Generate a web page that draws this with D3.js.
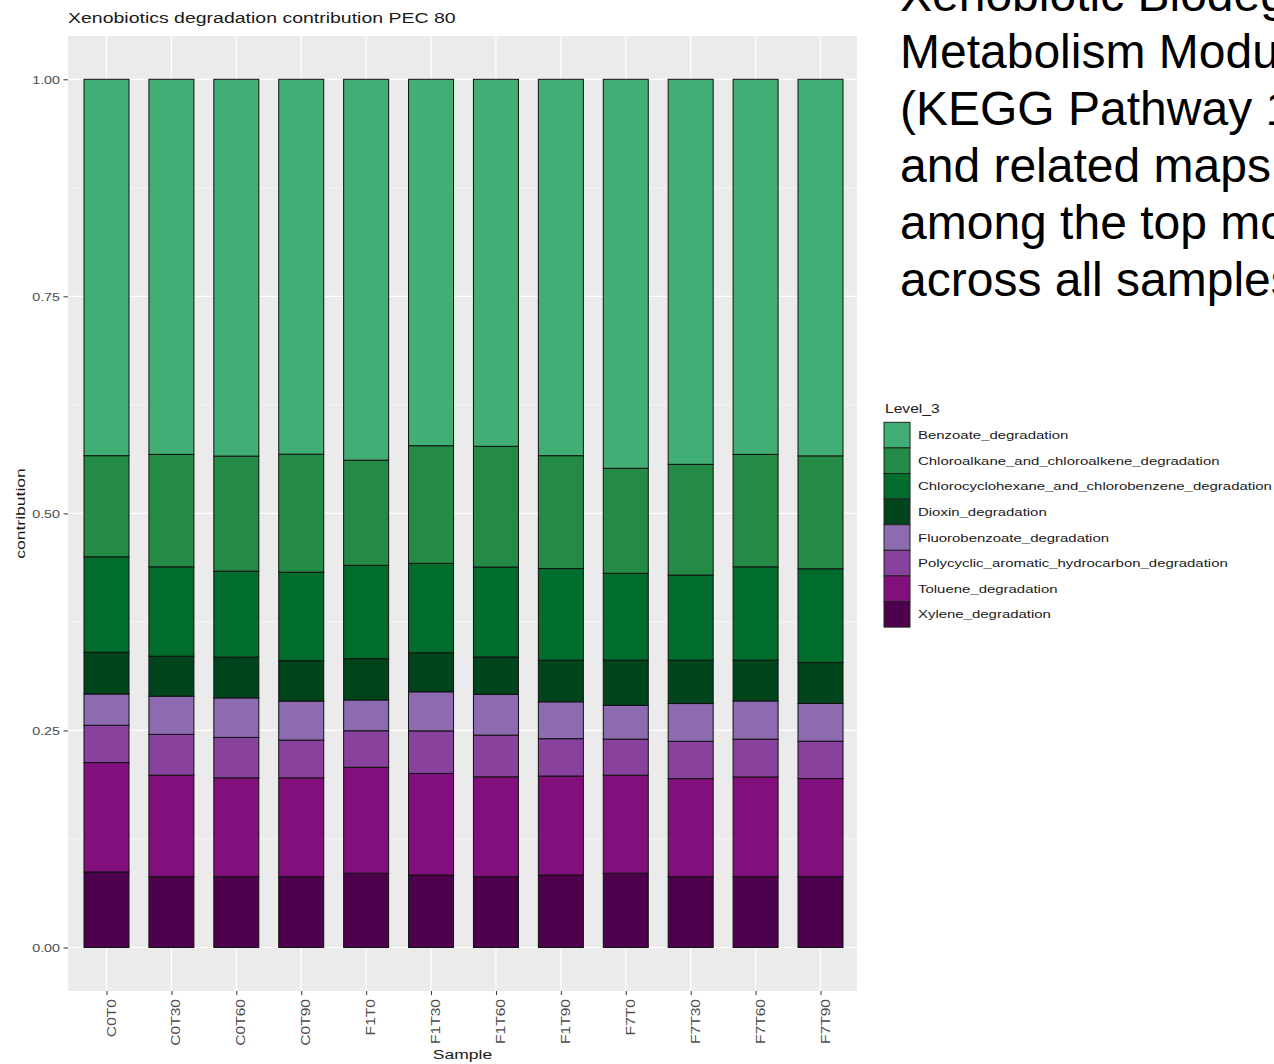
<!DOCTYPE html>
<html>
<head>
<meta charset="utf-8">
<script src="https://cdn.jsdelivr.net/npm/d3@7"></script>
<style>
  body { margin: 0; background: #fff; }
  svg { display: block; font-family: "Liberation Sans", Arial, sans-serif; }
</style>
</head>
<body>
<svg id="chart" width="1274" height="1064"></svg>
<script>
// ---------- data ----------
const samples = ["C0T0","C0T30","C0T60","C0T90","F1T0","F1T30","F1T60","F1T90","F7T0","F7T30","F7T60","F7T90"];
const pathways = [
  "Benzoate_degradation",
  "Chloroalkane_and_chloroalkene_degradation",
  "Chlorocyclohexane_and_chlorobenzene_degradation",
  "Dioxin_degradation",
  "Fluorobenzoate_degradation",
  "Polycyclic_aromatic_hydrocarbon_degradation",
  "Toluene_degradation",
  "Xylene_degradation"
];
const pathwayColors = ["#41ae76","#238b45","#006d2c","#00441b","#8c6bb1","#88419d","#810f7c","#4d004b"];

const benzoate       = [0.4335,0.4320,0.4340,0.4320,0.4385,0.4220,0.4225,0.4335,0.4480,0.4435,0.4320,0.4335];
const chloroalkane   = [0.1165,0.1295,0.1325,0.1360,0.1210,0.1355,0.1390,0.1300,0.1210,0.1275,0.1295,0.1300];
const chlorocyclo    = [0.1100,0.1030,0.0990,0.1020,0.1075,0.1030,0.1035,0.1055,0.1000,0.0980,0.1075,0.1080];
const dioxin         = [0.0480,0.0460,0.0470,0.0465,0.0475,0.0450,0.0430,0.0480,0.0520,0.0500,0.0470,0.0470];
const fluorobenzoate = [0.0360,0.0440,0.0455,0.0450,0.0355,0.0450,0.0470,0.0425,0.0390,0.0435,0.0440,0.0435];
const polycyclic     = [0.0430,0.0470,0.0465,0.0435,0.0420,0.0490,0.0480,0.0430,0.0415,0.0430,0.0435,0.0430];
const toluene        = [0.1260,0.1170,0.1140,0.1140,0.1220,0.1170,0.1150,0.1140,0.1130,0.1130,0.1150,0.1130];
const xylene         = [0.0870,0.0815,0.0815,0.0815,0.0855,0.0835,0.0815,0.0835,0.0855,0.0815,0.0815,0.0815];
const seriesValues = [benzoate, chloroalkane, chlorocyclo, dioxin, fluorobenzoate, polycyclic, toluene, xylene];

const yTicks = [0, 0.25, 0.5, 0.75, 1];
const yMinor = [0.125, 0.375, 0.625, 0.875];

const chartTitle = "Xenobiotics degradation contribution PEC 80";
const xTitle = "Sample";
const yTitle = "contribution";
const legendTitle = "Level_3";
const slideLines = ["Xenobiotic Biodeg","Metabolism Modu","(KEGG Pathway 1","and related maps","among the top mo","across all samples"];

// ---------- build table ----------
const rows = samples.map((s, i) => {
  const r = { sample: s };
  pathways.forEach((p, k) => { r[p] = seriesValues[k][i]; });
  return r;
});

const svg = d3.select("#chart");
const SX = 1.3;

const panel = { left: 68, right: 857, top: 36, bottom: 991 };
const x = d3.scalePoint().domain(samples).range([106.5, 820.5]);
const y = d3.scaleLinear().domain([0, 1]).range([947.5, 79.3]);
const barW = 45;
const color = d3.scaleOrdinal().domain(pathways).range(pathwayColors);

// panel background
svg.append("rect")
  .attr("x", panel.left).attr("y", panel.top)
  .attr("width", panel.right - panel.left).attr("height", panel.bottom - panel.top)
  .attr("fill", "#ebebeb");

// grid
const grid = svg.append("g");
grid.selectAll(".minor").data(yMinor).join("line")
  .attr("x1", panel.left).attr("x2", panel.right)
  .attr("y1", d => y(d)).attr("y2", d => y(d))
  .attr("stroke", "#fff").attr("stroke-width", 0.6);
grid.selectAll(".major").data(yTicks).join("line")
  .attr("x1", panel.left).attr("x2", panel.right)
  .attr("y1", d => y(d)).attr("y2", d => y(d))
  .attr("stroke", "#fff").attr("stroke-width", 1.2);
grid.selectAll(".vmajor").data(samples).join("line")
  .attr("x1", d => x(d)).attr("x2", d => x(d))
  .attr("y1", panel.top).attr("y2", panel.bottom)
  .attr("stroke", "#fff").attr("stroke-width", 1.2);

// stacked bars (position = fill)
const stackKeys = pathways.slice().reverse(); // bottom: Xylene
const stacked = d3.stack().keys(stackKeys).offset(d3.stackOffsetExpand)(rows);
svg.append("g").selectAll("g").data(stacked).join("g")
  .attr("fill", d => color(d.key))
  .selectAll("rect").data(d => d).join("rect")
  .attr("x", d => x(d.data.sample) - barW / 2)
  .attr("width", barW)
  .attr("y", d => y(d[1]))
  .attr("height", d => y(d[0]) - y(d[1]))
  .attr("stroke", "#111").attr("stroke-width", 1);

// y axis
const yAxis = svg.append("g").attr("transform", `translate(${panel.left},0)`)
  .call(d3.axisLeft(y).tickValues(yTicks).tickFormat(d3.format(".2f")).tickSize(4.5).tickSizeOuter(0));
yAxis.select(".domain").remove();
yAxis.selectAll(".tick line").attr("stroke", "#333").attr("stroke-width", 1);
yAxis.selectAll(".tick text")
  .attr("x", -8 / SX).attr("dy", "0.35em")
  .attr("transform", `scale(${SX},1)`)
  .attr("font-size", 11).attr("fill", "#4d4d4d")
  .attr("font-family", "Liberation Sans, Arial, sans-serif");

// x axis
const xAxis = svg.append("g").attr("transform", `translate(0,${panel.bottom})`)
  .call(d3.axisBottom(x).tickSize(4).tickSizeOuter(0));
xAxis.select(".domain").remove();
xAxis.selectAll(".tick line").attr("stroke", "#333").attr("stroke-width", 1);
xAxis.selectAll(".tick text")
  .attr("x", 0).attr("y", 0).attr("dy", null)
  .attr("text-anchor", "end")
  .attr("transform", `translate(8.5,8) rotate(-90) scale(${SX},1)`)
  .attr("font-size", 12).attr("fill", "#4d4d4d")
  .attr("font-family", "Liberation Sans, Arial, sans-serif");

// texts
function label(str, tx, ty, size, anchor, rot, fill, sx) {
  return svg.append("text")
    .attr("transform", `translate(${tx},${ty})` + (rot ? ` rotate(${rot})` : "") + ` scale(${sx || SX},1)`)
    .attr("text-anchor", anchor)
    .attr("font-size", size)
    .attr("fill", fill)
    .text(str);
}
label(chartTitle, panel.left, 23, 15, "start", 0, "#1a1a1a");
label(xTitle, (panel.left + panel.right) / 2, 1059, 13.5, "middle", 0, "#1a1a1a");
label(yTitle, 25, (panel.top + panel.bottom) / 2, 13.5, "middle", -90, "#1a1a1a");

// legend
const lg = { x: 884, top: 422.3, keyW: 26, keyH: 25.6 };
label(legendTitle, 885, 413, 12, "start", 0, "#1a1a1a");
const leg = svg.append("g");
leg.selectAll("rect").data(pathways).join("rect")
  .attr("x", lg.x).attr("y", (d, i) => lg.top + i * lg.keyH)
  .attr("width", lg.keyW).attr("height", lg.keyH)
  .attr("fill", d => color(d)).attr("stroke", "#222").attr("stroke-width", 1);
pathways.forEach((p, i) => {
  label(p, 918, lg.top + i * lg.keyH + lg.keyH / 2 + 4, 11.5, "start", 0, "#1a1a1a");
});

// slide text on the right
svg.append("g").selectAll("text").data(slideLines).join("text")
  .attr("x", 900)
  .attr("y", (d, i) => 11 + i * 57)
  .attr("font-size", 48)
  .attr("fill", "#000")
  .attr("font-family", "Liberation Sans, Arial, sans-serif")
  .text(d => d);
</script>
</body>
</html>
